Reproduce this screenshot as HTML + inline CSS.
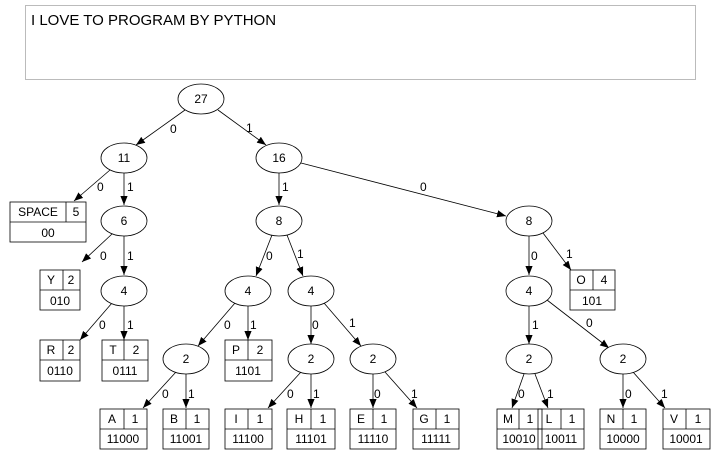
<!DOCTYPE html>
<html><head><meta charset="utf-8"><style>
html,body{margin:0;padding:0;background:#fff;width:720px;height:458px;overflow:hidden}
.ta{position:absolute;left:25px;top:5px;width:669px;height:73px;border:1px solid #bbb;font:15px "Liberation Sans",sans-serif;color:#000;padding:0;box-sizing:content-box}
.ta span{position:absolute;left:5px;top:6px}
svg{position:absolute;left:0;top:0}
</style></head><body>
<div class="ta"><span>I LOVE TO PROGRAM BY PYTHON</span></div>
<svg width="720" height="458" viewBox="0 0 720 458" font-family="Liberation Sans, sans-serif" font-size="12">
<defs><marker id="a" viewBox="0 0 10 10" refX="10" refY="5" markerWidth="9" markerHeight="9" orient="auto" markerUnits="userSpaceOnUse"><path d="M0,1 L10,5 L0,9 z" fill="#000"/></marker></defs>
<g stroke="#000" stroke-width="0.8" fill="none" marker-end="url(#a)">
<line x1="185" y1="110" x2="136" y2="145"/>
<line x1="218" y1="110" x2="266" y2="145"/>
<line x1="110" y1="170" x2="74" y2="201"/>
<line x1="124" y1="173" x2="124" y2="205"/>
<line x1="279" y1="173" x2="279" y2="205"/>
<line x1="301" y1="163" x2="506" y2="216"/>
<line x1="112" y1="234" x2="82" y2="262"/>
<line x1="124" y1="236" x2="124" y2="275"/>
<line x1="272" y1="235" x2="256" y2="276"/>
<line x1="287" y1="235" x2="303" y2="276"/>
<line x1="529" y1="236" x2="529" y2="275"/>
<line x1="543" y1="233" x2="571" y2="270"/>
<line x1="112" y1="303" x2="80" y2="340"/>
<line x1="124" y1="306" x2="124" y2="340"/>
<line x1="235" y1="303" x2="198" y2="346"/>
<line x1="248" y1="306" x2="248" y2="340"/>
<line x1="311" y1="306" x2="311" y2="344"/>
<line x1="324" y1="303" x2="361" y2="346"/>
<line x1="529" y1="306" x2="529" y2="344"/>
<line x1="547" y1="300" x2="609" y2="348"/>
<line x1="176" y1="372" x2="143" y2="408"/>
<line x1="186" y1="374" x2="186" y2="408"/>
<line x1="301" y1="372" x2="268" y2="408"/>
<line x1="311" y1="374" x2="311" y2="408"/>
<line x1="373" y1="374" x2="373" y2="408"/>
<line x1="385" y1="372" x2="417" y2="408"/>
<line x1="524" y1="374" x2="512" y2="408"/>
<line x1="535" y1="374" x2="548" y2="408"/>
<line x1="623" y1="374" x2="623" y2="408"/>
<line x1="633" y1="372" x2="665" y2="408"/>
</g>
<g fill="#000">
<text x="170" y="133">0</text><text x="246" y="132">1</text>
<text x="97" y="191">0</text><text x="127" y="191">1</text>
<text x="282" y="191">1</text><text x="420" y="191">0</text>
<text x="100" y="260">0</text><text x="127" y="260">1</text>
<text x="266" y="260">0</text><text x="297" y="258">1</text>
<text x="531" y="260">0</text><text x="566" y="258">1</text>
<text x="99" y="329">0</text><text x="127" y="329">1</text>
<text x="224" y="329">0</text><text x="250" y="329">1</text>
<text x="312" y="329">0</text><text x="349" y="327">1</text>
<text x="532" y="329">1</text><text x="586" y="327">0</text>
<text x="162" y="398">0</text><text x="188" y="398">1</text>
<text x="287" y="398">0</text><text x="313" y="398">1</text>
<text x="374" y="398">0</text><text x="411" y="398">1</text>
<text x="518" y="398">0</text><text x="547" y="398">1</text>
<text x="625" y="398">0</text><text x="661" y="398">1</text>
</g>
<g stroke="#000" stroke-width="0.8" fill="#fff">
<ellipse cx="201" cy="99" rx="23" ry="15"/>
<ellipse cx="124" cy="158" rx="23" ry="15"/>
<ellipse cx="279" cy="158" rx="23" ry="15"/>
<ellipse cx="124" cy="221" rx="23" ry="15"/>
<ellipse cx="279" cy="221" rx="23" ry="15"/>
<ellipse cx="529" cy="221" rx="23" ry="15"/>
<ellipse cx="124" cy="291" rx="23" ry="15"/>
<ellipse cx="248" cy="291" rx="23" ry="15"/>
<ellipse cx="311" cy="291" rx="23" ry="15"/>
<ellipse cx="529" cy="291" rx="23" ry="15"/>
<ellipse cx="186" cy="359" rx="23" ry="15"/>
<ellipse cx="311" cy="359" rx="23" ry="15"/>
<ellipse cx="373" cy="359" rx="23" ry="15"/>
<ellipse cx="529" cy="359" rx="23" ry="15"/>
<ellipse cx="623" cy="359" rx="23" ry="15"/>
</g>
<g text-anchor="middle" fill="#000">
<text x="201" y="103">27</text><text x="124" y="162">11</text><text x="279" y="162">16</text>
<text x="124" y="225">6</text><text x="279" y="225">8</text><text x="529" y="225">8</text>
<text x="124" y="295">4</text><text x="248" y="295">4</text><text x="311" y="295">4</text><text x="529" y="295">4</text>
<text x="186" y="363">2</text><text x="311" y="363">2</text><text x="373" y="363">2</text><text x="529" y="363">2</text><text x="623" y="363">2</text>
</g>
<g stroke="#000" stroke-width="0.8" fill="none">
<!-- records: x,y,w,h,div -->
<rect x="10" y="202" width="76" height="40"/><line x1="10" y1="222" x2="86" y2="222"/><line x1="66" y1="202" x2="66" y2="222"/>
<rect x="40" y="270" width="40" height="40"/><line x1="40" y1="290" x2="80" y2="290"/><line x1="63" y1="270" x2="63" y2="290"/>
<rect x="570" y="270" width="45" height="40"/><line x1="570" y1="290" x2="615" y2="290"/><line x1="593" y1="270" x2="593" y2="290"/>
<rect x="40" y="340" width="40" height="41"/><line x1="40" y1="360" x2="80" y2="360"/><line x1="63" y1="340" x2="63" y2="360"/>
<rect x="102" y="340" width="46" height="41"/><line x1="102" y1="360" x2="148" y2="360"/><line x1="124" y1="340" x2="124" y2="360"/>
<rect x="225" y="340" width="47" height="41"/><line x1="225" y1="360" x2="272" y2="360"/><line x1="248" y1="340" x2="248" y2="360"/>
</g>
<g stroke="#000" stroke-width="0.8" fill="none">
<rect x="100" y="409" width="47" height="40"/><line x1="100" y1="429" x2="147" y2="429"/><line x1="124" y1="409" x2="124" y2="429"/>
<rect x="163" y="409" width="46" height="40"/><line x1="163" y1="429" x2="209" y2="429"/><line x1="186" y1="409" x2="186" y2="429"/>
<rect x="225" y="409" width="47" height="40"/><line x1="225" y1="429" x2="272" y2="429"/><line x1="248" y1="409" x2="248" y2="429"/>
<rect x="287" y="409" width="48" height="40"/><line x1="287" y1="429" x2="335" y2="429"/><line x1="311" y1="409" x2="311" y2="429"/>
<rect x="350" y="409" width="46" height="40"/><line x1="350" y1="429" x2="396" y2="429"/><line x1="373" y1="409" x2="373" y2="429"/>
<rect x="413" y="409" width="46" height="40"/><line x1="413" y1="429" x2="459" y2="429"/><line x1="436" y1="409" x2="436" y2="429"/>
<rect x="497" y="409" width="45" height="40"/><line x1="497" y1="429" x2="542" y2="429"/><line x1="519" y1="409" x2="519" y2="429"/>
<rect x="538" y="409" width="46" height="40"/><line x1="538" y1="429" x2="584" y2="429"/><line x1="561" y1="409" x2="561" y2="429"/>
<rect x="600" y="409" width="46" height="40"/><line x1="600" y1="429" x2="646" y2="429"/><line x1="623" y1="409" x2="623" y2="429"/>
<rect x="663" y="409" width="47" height="40"/><line x1="663" y1="429" x2="710" y2="429"/><line x1="686" y1="409" x2="686" y2="429"/>
</g>
<g text-anchor="middle" fill="#000">
<text x="38" y="216">SPACE</text><text x="76" y="216">5</text><text x="48" y="237">00</text>
<text x="51" y="284">Y</text><text x="71" y="284">2</text><text x="60" y="305">010</text>
<text x="581" y="284">O</text><text x="604" y="284">4</text><text x="592" y="305">101</text>
<text x="51" y="354">R</text><text x="71" y="354">2</text><text x="60" y="375">0110</text>
<text x="113" y="354">T</text><text x="136" y="354">2</text><text x="125" y="375">0111</text>
<text x="236" y="354">P</text><text x="260" y="354">2</text><text x="248" y="375">1101</text>
<text x="112" y="423">A</text><text x="135" y="423">1</text><text x="123" y="443">11000</text>
<text x="174" y="423">B</text><text x="197" y="423">1</text><text x="186" y="443">11001</text>
<text x="236" y="423">I</text><text x="260" y="423">1</text><text x="248" y="443">11100</text>
<text x="299" y="423">H</text><text x="323" y="423">1</text><text x="311" y="443">11101</text>
<text x="361" y="423">E</text><text x="384" y="423">1</text><text x="373" y="443">11110</text>
<text x="424" y="423">G</text><text x="447" y="423">1</text><text x="436" y="443">11111</text>
<text x="508" y="423">M</text><text x="530" y="423">1</text><text x="519" y="443">10010</text>
<text x="549" y="423">L</text><text x="572" y="423">1</text><text x="561" y="443">10011</text>
<text x="611" y="423">N</text><text x="634" y="423">1</text><text x="623" y="443">10000</text>
<text x="674" y="423">V</text><text x="698" y="423">1</text><text x="686" y="443">10001</text>
</g>
</svg>
</body></html>
